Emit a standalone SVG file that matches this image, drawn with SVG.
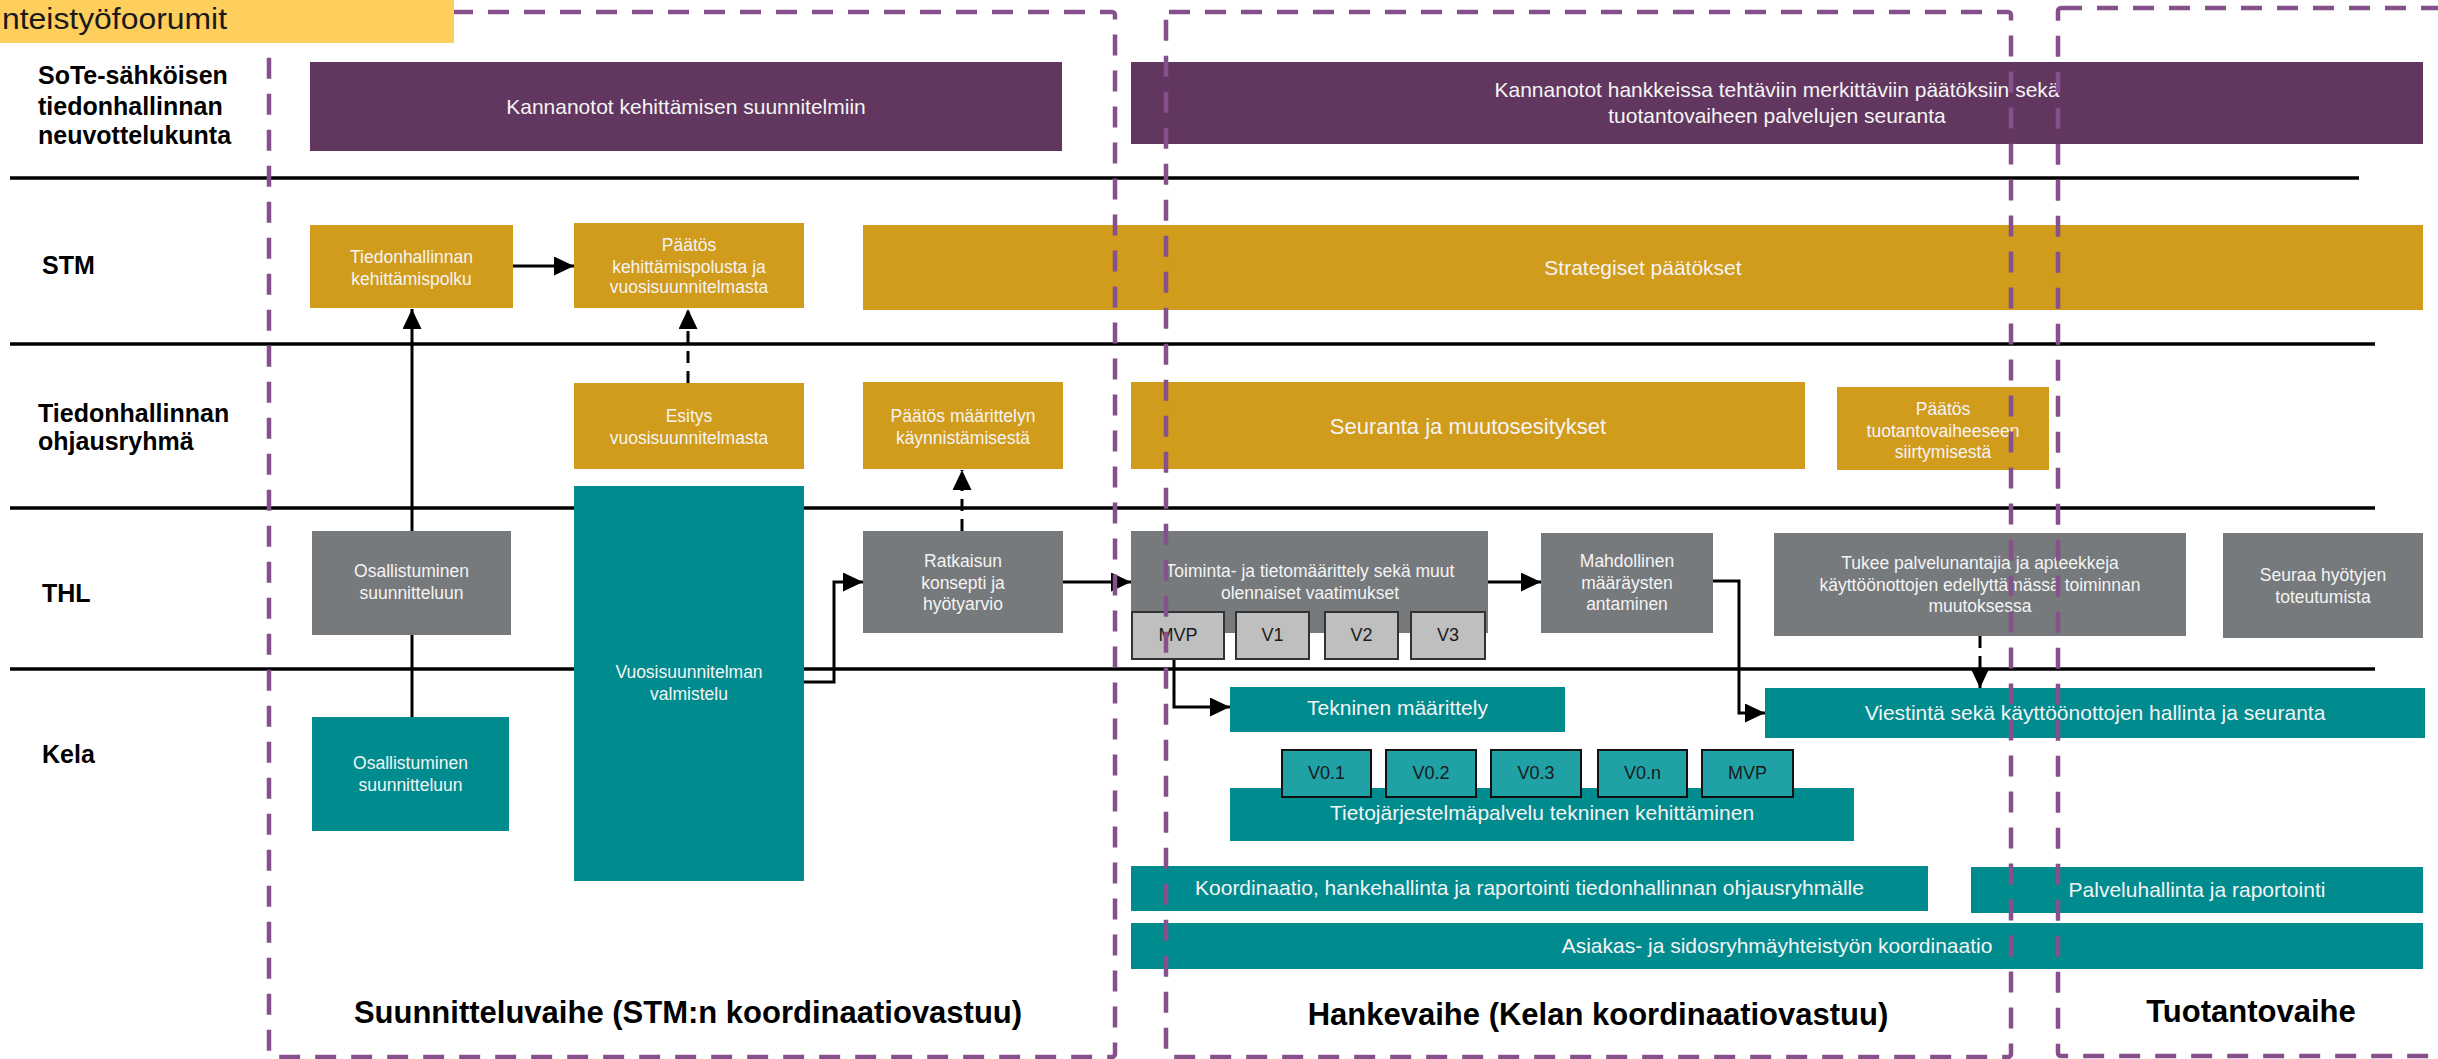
<svg xmlns="http://www.w3.org/2000/svg" width="2438" height="1059" viewBox="0 0 2438 1059">
<style>
text{font-family:"Liberation Sans",Arial,sans-serif}
.lbl{font-size:25px;font-weight:bold;fill:#000}
.ph{font-size:31px;font-weight:bold;fill:#000;text-anchor:middle}
.bt{font-size:21px;fill:#f4f4f4;text-anchor:middle}
.st{font-size:17.5px;fill:#f4f4f4;text-anchor:middle}
.vt{font-size:18px;fill:#1a1a1a;text-anchor:middle}
.pur{fill:#62375f}
.yel{fill:#d19b1c}
.gry{fill:#767a7c}
.tea{fill:#008b8f}
.lgb{fill:#bfbfbf;stroke:#333;stroke-width:2}
.ltb{fill:#1fa1a5;stroke:#111;stroke-width:2}
.sep{stroke:#000;stroke-width:3.5}
.con{fill:none;stroke:#000;stroke-width:3}
.dsh{stroke-dasharray:12 8}
.phase{fill:none;stroke:#86508c;stroke-width:4.5;stroke-dasharray:21 15}
</style>
<defs>
<marker id="ah" markerUnits="userSpaceOnUse" markerWidth="22" markerHeight="20" refX="20" refY="9.5" orient="auto">
<path d="M0,0 L20,9.5 L0,19 z" fill="#000"/>
</marker>
</defs>
<rect width="2438" height="1059" fill="#fff"/>
<g id="separators">
<line class="sep" x1="10" y1="178" x2="2359" y2="178"/>
<line class="sep" x1="10" y1="344" x2="2375" y2="344"/>
<line class="sep" x1="10" y1="508" x2="2375" y2="508"/>
<line class="sep" x1="10" y1="669" x2="2375" y2="669"/>
</g>
<g id="row-labels">
<text class="lbl" x="38" y="84">SoTe-sähköisen</text>
<text class="lbl" x="38" y="115">tiedonhallinnan</text>
<text class="lbl" x="38" y="144">neuvottelukunta</text>
<text class="lbl" x="42" y="274">STM</text>
<text class="lbl" x="38" y="422">Tiedonhallinnan</text>
<text class="lbl" x="38" y="450">ohjausryhmä</text>
<text class="lbl" x="42" y="602">THL</text>
<text class="lbl" x="42" y="763">Kela</text>
</g>
<g id="connectors">
<line class="con" x1="412" y1="717" x2="412" y2="309" marker-end="url(#ah)"/>
<line class="con" x1="513" y1="266" x2="574" y2="266" marker-end="url(#ah)"/>
<line class="con dsh" x1="688" y1="383" x2="688" y2="309" marker-end="url(#ah)"/>
<polyline class="con" points="804,682 834,682 834,582 863,582" marker-end="url(#ah)"/>
<line class="con dsh" x1="962" y1="531" x2="962" y2="470" marker-end="url(#ah)"/>
<line class="con" x1="1063" y1="582" x2="1131" y2="582" marker-end="url(#ah)"/>
<line class="con" x1="1488" y1="582" x2="1541" y2="582" marker-end="url(#ah)"/>
<polyline class="con" points="1174,659 1174,707 1230,707" marker-end="url(#ah)"/>
<polyline class="con" points="1713,581 1739,581 1739,713 1765,713" marker-end="url(#ah)"/>
<line class="con dsh" x1="1980" y1="636" x2="1980" y2="688" marker-end="url(#ah)"/>
</g>
<g id="n-kannanotot1"><rect class="pur" x="310" y="62" width="752" height="89"/><text class="bt" x="686" y="114">Kannanotot kehittämisen suunnitelmiin</text></g>
<g id="n-kannanotot2"><rect class="pur" x="1131" y="62" width="1292" height="82"/><text class="bt" x="1777" y="97">Kannanotot hankkeissa tehtäviin merkittäviin päätöksiin sekä</text><text class="bt" x="1777" y="123">tuotantovaiheen palvelujen seuranta</text></g>
<g id="n-kehittamispolku"><rect class="yel" x="310" y="225" width="203" height="83"/><text class="st" x="411.5" y="263">Tiedonhallinnan</text><text class="st" x="411.5" y="285">kehittämispolku</text></g>
<g id="n-paatos-kehittamispolusta"><rect class="yel" x="574" y="223" width="230" height="85"/><text class="st" x="689" y="251">Päätös</text><text class="st" x="689" y="273">kehittämispolusta ja</text><text class="st" x="689" y="293">vuosisuunnitelmasta</text></g>
<g id="n-strategiset"><rect class="yel" x="863" y="225" width="1560" height="85"/><text class="bt" x="1643" y="275">Strategiset päätökset</text></g>
<g id="n-esitys"><rect class="yel" x="574" y="383" width="230" height="86"/><text class="st" x="689" y="422">Esitys</text><text class="st" x="689" y="444">vuosisuunnitelmasta</text></g>
<g id="n-paatos-maarittelyn"><rect class="yel" x="863" y="382" width="200" height="87"/><text class="st" x="963" y="422">Päätös määrittelyn</text><text class="st" x="963" y="444">käynnistämisestä</text></g>
<g id="n-seuranta"><rect class="yel" x="1131" y="382" width="674" height="87"/><text class="bt" x="1468" y="434" style="font-size:22px">Seuranta ja muutosesitykset</text></g>
<g id="n-paatos-tuotanto"><rect class="yel" x="1837" y="387" width="212" height="83"/><text class="st" x="1943" y="415">Päätös</text><text class="st" x="1943" y="437">tuotantovaiheeseen</text><text class="st" x="1943" y="458">siirtymisestä</text></g>
<g id="n-thl-osallistuminen"><rect class="gry" x="312" y="531" width="199" height="104"/><text class="st" x="411.5" y="577">Osallistuminen</text><text class="st" x="411.5" y="599">suunnitteluun</text></g>
<g id="n-vuosisuunnitelma"><rect class="tea" x="574" y="486" width="230" height="395"/><text class="st" x="689" y="678">Vuosisuunnitelman</text><text class="st" x="689" y="700">valmistelu</text></g>
<g id="n-ratkaisun"><rect class="gry" x="863" y="531" width="200" height="102"/><text class="st" x="963" y="567">Ratkaisun</text><text class="st" x="963" y="589">konsepti ja</text><text class="st" x="963" y="610">hyötyarvio</text></g>
<g id="n-toiminta"><rect class="gry" x="1131" y="531" width="357" height="102"/><text class="st" x="1310" y="577">Toiminta- ja tietomäärittely sekä muut</text><text class="st" x="1310" y="599">olennaiset vaatimukset</text></g>
<g id="n-versions-thl">
<rect class="lgb" x="1132" y="612" width="92" height="47"/><text class="vt" x="1178" y="641">MVP</text>
<rect class="lgb" x="1236" y="612" width="73" height="47"/><text class="vt" x="1272.5" y="641">V1</text>
<rect class="lgb" x="1325" y="612" width="73" height="47"/><text class="vt" x="1361.5" y="641">V2</text>
<rect class="lgb" x="1411" y="612" width="74" height="47"/><text class="vt" x="1448" y="641">V3</text>
</g>
<g id="n-mahdollinen"><rect class="gry" x="1541" y="533" width="172" height="100"/><text class="st" x="1627" y="567">Mahdollinen</text><text class="st" x="1627" y="589">määräysten</text><text class="st" x="1627" y="610">antaminen</text></g>
<g id="n-tukee"><rect class="gry" x="1774" y="533" width="412" height="103"/><text class="st" x="1980" y="569">Tukee palvelunantajia ja apteekkeja</text><text class="st" x="1980" y="591">käyttöönottojen edellyttämässä toiminnan</text><text class="st" x="1980" y="612">muutoksessa</text></g>
<g id="n-seuraa"><rect class="gry" x="2223" y="533" width="200" height="105"/><text class="st" x="2323" y="581">Seuraa hyötyjen</text><text class="st" x="2323" y="603">toteutumista</text></g>
<g id="n-kela-osallistuminen"><rect class="tea" x="312" y="717" width="197" height="114"/><text class="st" x="410.5" y="769">Osallistuminen</text><text class="st" x="410.5" y="791">suunnitteluun</text></g>
<g id="n-tekninen"><rect class="tea" x="1230" y="687" width="335" height="45"/><text class="bt" x="1397.5" y="715">Tekninen määrittely</text></g>
<g id="n-viestinta"><rect class="tea" x="1765" y="688" width="660" height="50"/><text class="bt" x="2095" y="720">Viestintä sekä käyttöönottojen hallinta ja seuranta</text></g>
<g id="n-tietojarjestelma"><rect class="tea" x="1230" y="788" width="624" height="53"/><text class="bt" x="1542" y="820">Tietojärjestelmäpalvelu tekninen kehittäminen</text></g>
<g id="n-versions-kela">
<rect class="ltb" x="1282" y="750" width="89" height="47"/><text class="vt" x="1326.5" y="779">V0.1</text>
<rect class="ltb" x="1386" y="750" width="90" height="47"/><text class="vt" x="1431" y="779">V0.2</text>
<rect class="ltb" x="1491" y="750" width="90" height="47"/><text class="vt" x="1536" y="779">V0.3</text>
<rect class="ltb" x="1598" y="750" width="89" height="47"/><text class="vt" x="1642.5" y="779">V0.n</text>
<rect class="ltb" x="1702" y="750" width="91" height="47"/><text class="vt" x="1747.5" y="779">MVP</text>
</g>
<g id="n-koordinaatio"><rect class="tea" x="1131" y="866" width="797" height="45"/><text class="bt" x="1529.5" y="895">Koordinaatio, hankehallinta ja raportointi tiedonhallinnan ohjausryhmälle</text></g>
<g id="n-palveluhallinta"><rect class="tea" x="1971" y="867" width="452" height="46"/><text class="bt" x="2197" y="897">Palveluhallinta ja raportointi</text></g>
<g id="n-asiakas"><rect class="tea" x="1131" y="923" width="1292" height="46"/><text class="bt" x="1777" y="953">Asiakas- ja sidosryhmäyhteistyön koordinaatio</text></g>
<g id="phases">
<rect class="phase" x="269" y="12" width="846" height="1045" rx="3"/>
<rect class="phase" x="1166" y="12" width="845" height="1045" rx="3"/>
<rect class="phase" x="2058" y="8" width="420" height="1048" rx="3"/>
<text class="ph" x="688" y="1023">Suunnitteluvaihe (STM:n koordinaatiovastuu)</text>
<text class="ph" x="1598" y="1025">Hankevaihe (Kelan koordinaatiovastuu)</text>
<text class="ph" x="2251" y="1022">Tuotantovaihe</text>
</g>
<g id="n-forum-label"><rect x="0" y="0" width="454" height="43" fill="#ffcf5e"/><text x="2" y="29" textLength="225" lengthAdjust="spacingAndGlyphs" style="font-size:29px;fill:#1a1a1a">nteistyöfoorumit</text></g>
</svg>
